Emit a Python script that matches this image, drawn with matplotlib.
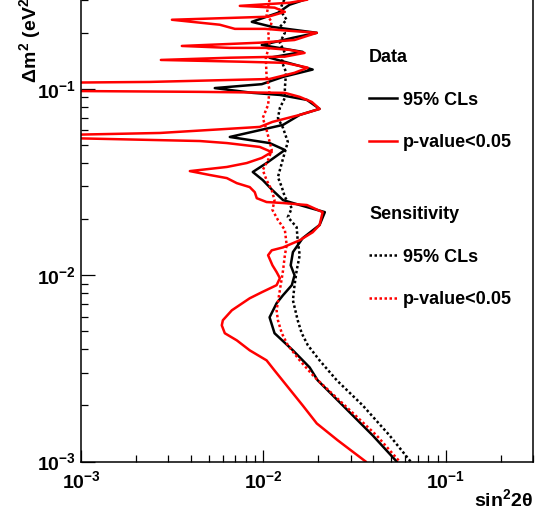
import matplotlib
matplotlib.use("Agg")
import matplotlib.pyplot as plt
from matplotlib.lines import Line2D
from matplotlib.ticker import LogLocator, FuncFormatter, NullFormatter
import numpy as np

plt.rcParams['font.family'] = ['Liberation Sans', 'DejaVu Sans']
plt.rcParams['font.weight'] = 'bold'
plt.rcParams['axes.labelweight'] = 'bold'
plt.rcParams['mathtext.fontset'] = 'custom'
plt.rcParams['mathtext.rm'] = 'Liberation Sans:bold'
plt.rcParams['mathtext.bf'] = 'Liberation Sans:bold'
plt.rcParams['mathtext.it'] = 'Liberation Sans:bold'

# (sin^2 2theta, dm2) points, top to bottom
data_cls = [(0.0168, 0.301), (0.0139, 0.283), (0.0120, 0.256), (0.00863, 0.229), (0.0112, 0.215),
            (0.0196, 0.200), (0.0145, 0.188), (0.00979, 0.172), (0.0164, 0.158), (0.0108, 0.147),
            (0.0186, 0.127), (0.0128, 0.116), (0.00979, 0.106), (0.00541, 0.101), (0.00874, 0.0952),
            (0.0123, 0.0928), (0.0173, 0.0873), (0.0203, 0.0781), (0.0158, 0.0725), (0.0128, 0.0641),
            (0.00654, 0.0552), (0.0108, 0.0512), (0.0131, 0.0470), (0.0104, 0.0400), (0.00874, 0.0358),
            (0.00991, 0.0324), (0.0112, 0.0286), (0.0128, 0.0253), (0.0158, 0.0238), (0.0217, 0.0218),
            (0.0203, 0.0186), (0.0164, 0.0158), (0.0145, 0.0133), (0.0141, 0.0113), (0.0148, 0.0100),
            (0.0143, 0.00884), (0.0128, 0.00781), (0.0118, 0.00707), (0.0108, 0.00594), (0.0115, 0.00488),
            (0.0145, 0.00395), (0.0179, 0.00320), (0.0198, 0.00273), (0.0272, 0.00200), (0.0397, 0.00138),
            (0.0537, 0.00100)]

data_pval = [(0.0173, 0.301), (0.0139, 0.290), (0.00742, 0.279), (0.0115, 0.273), (0.0131, 0.259),
             (0.0106, 0.244), (0.00315, 0.235), (0.00576, 0.221), (0.00697, 0.210), (0.0102, 0.210),
             (0.0139, 0.205), (0.0196, 0.200), (0.0148, 0.183), (0.00954, 0.177), (0.00357, 0.170),
             (0.00654, 0.166), (0.0102, 0.166), (0.0139, 0.162), (0.0168, 0.156), (0.0131, 0.149),
             (0.00654, 0.147), (0.00274, 0.143), (0.00742, 0.140), (0.0131, 0.138), (0.0175, 0.130),
             (0.0148, 0.122), (0.0108, 0.113), (0.00239, 0.109), (0.0008, 0.108), (0.0008, 0.0975),
             (0.00448, 0.0964), (0.0131, 0.0952), (0.0158, 0.0906), (0.0184, 0.0851), (0.0203, 0.0781),
             (0.0158, 0.0725), (0.0112, 0.0665), (0.00954, 0.0625), (0.00271, 0.0580), (0.0008, 0.0566),
             (0.0008, 0.0545), (0.00448, 0.0525), (0.0063, 0.0512), (0.00954, 0.0488), (0.0111, 0.0458),
             (0.00979, 0.0426), (0.0081, 0.0400), (0.0063, 0.0381), (0.00395, 0.0362), (0.00508, 0.0345),
             (0.0063, 0.0332), (0.00714, 0.0312), (0.00841, 0.0297), (0.00896, 0.0279), (0.00919, 0.0259),
             (0.0104, 0.0247), (0.0128, 0.0244), (0.0173, 0.0238), (0.0211, 0.0218), (0.0203, 0.0186),
             (0.0186, 0.0170), (0.0158, 0.0154), (0.0128, 0.0141), (0.0111, 0.0136), (0.0106, 0.0128),
             (0.0112, 0.0113), (0.0118, 0.0104), (0.0123, 0.00964), (0.0118, 0.00884), (0.00979, 0.00810),
             (0.00841, 0.00752), (0.00671, 0.00648), (0.00599, 0.00573), (0.00591, 0.00538), (0.00614, 0.00488),
             (0.00714, 0.00447), (0.00841, 0.00395), (0.0104, 0.00349), (0.0115, 0.00308), (0.0164, 0.00200),
             (0.0196, 0.00160), (0.0255, 0.00130), (0.0363, 0.00100)]

sens_cls = [(0.0130, 0.301), (0.0123, 0.266), (0.0134, 0.235), (0.0123, 0.215), (0.0131, 0.200),
            (0.0123, 0.177), (0.0131, 0.156), (0.0126, 0.140), (0.0133, 0.123), (0.0131, 0.101),
            (0.0131, 0.0894), (0.0123, 0.0790), (0.0120, 0.0698), (0.0128, 0.0617), (0.0136, 0.0519),
            (0.0131, 0.0458), (0.0126, 0.0400), (0.0120, 0.0336), (0.0126, 0.0297), (0.0131, 0.0263),
            (0.0143, 0.0229), (0.0136, 0.0205), (0.0152, 0.0181), (0.0154, 0.0154), (0.0158, 0.0128),
            (0.0152, 0.0106), (0.0148, 0.00884), (0.0145, 0.00734), (0.0154, 0.00573), (0.0162, 0.00488),
            (0.0175, 0.00421), (0.0203, 0.00349), (0.0252, 0.00273), (0.0350, 0.00200), (0.0491, 0.00138),
            (0.0640, 0.00100)]

sens_pval = [(0.0108, 0.301), (0.0104, 0.250), (0.0111, 0.229), (0.0106, 0.195), (0.0108, 0.172),
             (0.0103, 0.147), (0.0104, 0.116), (0.0108, 0.0988), (0.0106, 0.0820), (0.00991, 0.0698),
             (0.0104, 0.0602), (0.0111, 0.0470), (0.0106, 0.0415), (0.00991, 0.0367), (0.0104, 0.0324),
             (0.0111, 0.0286), (0.0115, 0.0253), (0.0112, 0.0224), (0.0120, 0.0198), (0.0131, 0.0175),
             (0.0134, 0.0145), (0.0131, 0.0128), (0.0128, 0.0106), (0.0123, 0.00831), (0.0118, 0.00648),
             (0.0120, 0.00573), (0.0126, 0.00488), (0.0136, 0.00421), (0.0158, 0.00349), (0.0191, 0.00283),
             (0.0279, 0.00200), (0.0417, 0.00138), (0.0557, 0.00100)]

fig = plt.figure(figsize=(5.53, 5.14), dpi=100)
ax = fig.add_axes([81/553, 1 - 461.5/514, 452/553, 461.5/514])

lw = 1.8
dots = (0, (1, 1))
for pts, col, ls in [(data_cls, 'black', '-'), (sens_cls, 'black', dots),
                     (sens_pval, 'red', dots), (data_pval, 'red', '-')]:
    xs, ys = zip(*pts)
    ax.plot(xs, ys, color=col, lw=lw, linestyle=ls)

ax.set_xscale('log')
ax.set_yscale('log')
ax.set_xlim(1e-3, 0.3)
ax.set_ylim(1e-3, 0.3)

fmt = FuncFormatter(lambda v, p: r'$10^{%d}$' % int(round(np.log10(v))))
for axis in (ax.xaxis, ax.yaxis):
    axis.set_major_locator(LogLocator(base=10))
    axis.set_minor_locator(LogLocator(base=10, subs=np.arange(2, 10)))
    axis.set_major_formatter(fmt)
    axis.set_minor_formatter(NullFormatter())

ax.tick_params(which='both', direction='in', top=False, right=False, width=0.9, labelsize=14)
ax.tick_params(axis='x', which='major', length=8.6, pad=6)
ax.tick_params(axis='y', which='major', length=10, pad=3.5)
ax.tick_params(which='minor', length=5)
ax.spines['top'].set_visible(False)
for s in ('left', 'bottom', 'right'):
    ax.spines[s].set_linewidth(1.1)

ax.set_xlabel('sin$^{2}$2θ', fontsize=14, fontweight='bold')
ax.xaxis.label.set_horizontalalignment('right')
ax.xaxis.set_label_coords(1.0, -0.058)

ax.set_ylabel(r'$\Delta m^{2}$ (eV$^{2}$)', fontsize=14, fontweight='bold')
ax.yaxis.label.set_rotation_mode('default')
ax.yaxis.label.set_horizontalalignment('center')
ax.yaxis.label.set_verticalalignment('bottom')
ax.yaxis.set_label_coords(-0.113, 0.82)

leg_kw = dict(loc='upper left', bbox_transform=fig.transFigure, frameon=False, fontsize=13,
              title_fontproperties={'weight': 'bold', 'size': 13}, alignment='left',
              borderpad=0, borderaxespad=0, handlelength=1.55, handletextpad=0.35,
              labelspacing=1.42)
leg1 = ax.legend([Line2D([], [], color='black', lw=lw), Line2D([], [], color='red', lw=lw)],
                 ['95% CLs', 'p-value<0.05'], title='Data',
                 bbox_to_anchor=(369/553, 1 - 49/514), **leg_kw)
ax.add_artist(leg1)
ax.legend([Line2D([], [], color='black', lw=lw, linestyle=dots),
           Line2D([], [], color='red', lw=lw, linestyle=dots)],
          ['95% CLs', 'p-value<0.05'], title='Sensitivity',
          bbox_to_anchor=(369/553, 1 - 206/514), **leg_kw)

fig.savefig('out.png', dpi=100)
